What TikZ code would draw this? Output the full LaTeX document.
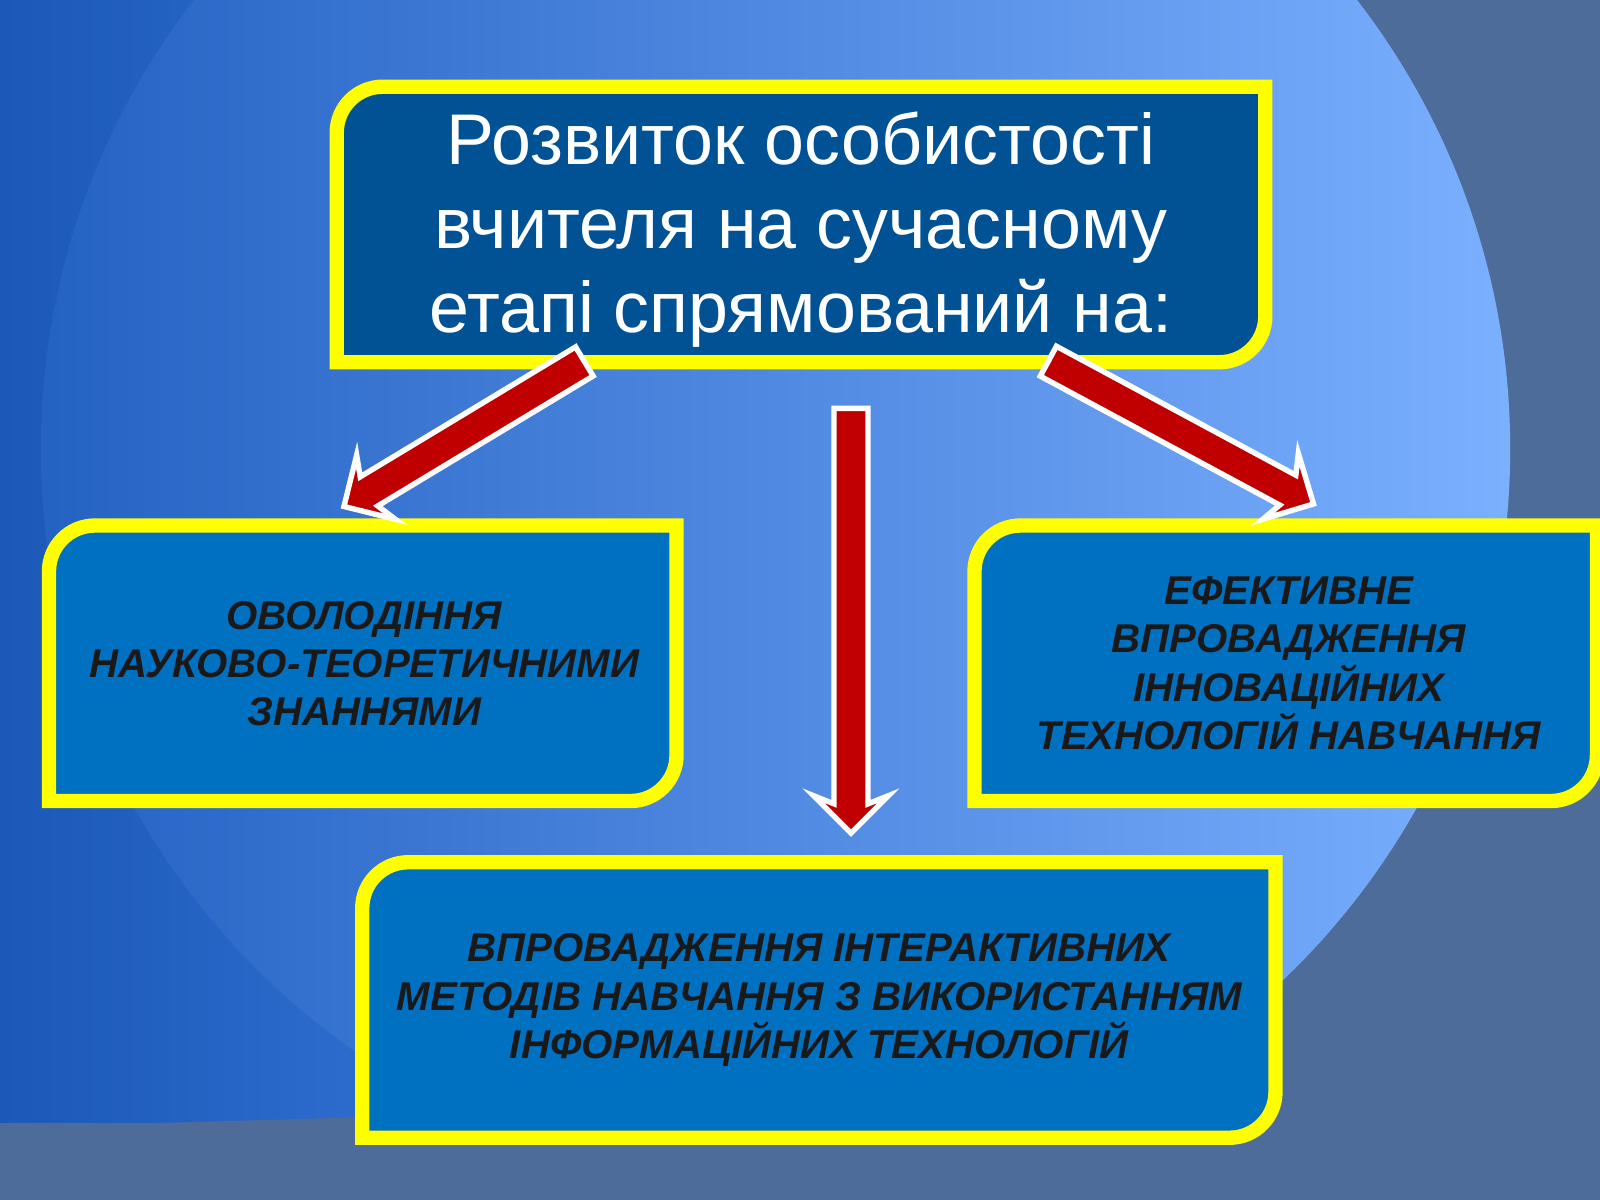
\documentclass[tikz,border=0pt]{standalone}
\usepackage{fontspec}
\setmainfont{Liberation Sans}
\usetikzlibrary{shapes.arrows}
\definecolor{bgdark}{HTML}{1B58B8}
\definecolor{bglight}{HTML}{5A9CFF}
\definecolor{grayb}{HTML}{4E6C9A}
\definecolor{topbox}{HTML}{005294}
\definecolor{subbox}{HTML}{0070C0}
\definecolor{yel}{HTML}{FFFF00}
\definecolor{arrred}{HTML}{C00000}
\tikzset{
  box/.style={draw=yel,line width=4pt,fill=subbox},
  redarrow/.style={single arrow,draw=white,line width=1.5pt,fill=arrred,minimum width=0.72cm,single arrow head extend=0.2cm,single arrow head indent=0.08cm,inner sep=0.14cm,inner xsep=0pt},
  small/.style={font=\fontsize{11.2}{13.4}\selectfont\bfseries\itshape,text=black!90,align=center}
}
\begin{document}
\begin{tikzpicture}[x=0.01cm,y=-0.01cm]
\useasboundingbox (0,0) rectangle (1568,1176);
% background
\fill[grayb] (0,0) rectangle (1568,1176);
\shade[left color=bgdark,right color=bglight] (0,0) rectangle (1250,1100);
\begin{scope}
\clip (0,0) rectangle (1568,1176);
\shade[left color=bgdark!85!bglight,right color=bglight!80!white] (760,440) circle (720);
\end{scope}
\fill[grayb] (0,1105) -- (700,1085) -- (1568,1060) -- (1568,1176) -- (0,1176) -- cycle;
% top box
\draw[box,fill=topbox] (330,355) -- (330,130) arc[start angle=180,end angle=270,radius=45] -- (1240,85) -- (1240,310) arc[start angle=0,end angle=90,radius=45] -- cycle;
\node[text=white,align=center,font=\fontsize{20}{23.3}\selectfont] (top) at (785,225) {Розвиток особистості\\вчителя на сучасному\\етапі спрямований на:};
% left
\draw[box] (48,785) -- (48,560) arc[start angle=180,end angle=270,radius=45] -- (663,515) -- (663,740) arc[start angle=0,end angle=90,radius=45] -- cycle;
\node[small] (l) at (357,650) {ОВОЛОДІННЯ\\НАУКОВО-ТЕОРЕТИЧНИМИ\\ЗНАННЯМИ};
% right
\draw[box] (955,785) -- (955,560) arc[start angle=180,end angle=270,radius=45] -- (1565,515) -- (1565,740) arc[start angle=0,end angle=90,radius=45] -- cycle;
\node[small] (r) at (1263,650) {ЕФЕКТИВНЕ\\ВПРОВАДЖЕННЯ\\ІННОВАЦІЙНИХ\\ТЕХНОЛОГІЙ НАВЧАННЯ};
% bottom
\draw[box] (355,1115) -- (355,890) arc[start angle=180,end angle=270,radius=45] -- (1250,845) -- (1250,1070) arc[start angle=0,end angle=90,radius=45] -- cycle;
\node[small] (b) at (803,980) {ВПРОВАДЖЕННЯ ІНТЕРАКТИВНИХ\\МЕТОДІВ НАВЧАННЯ З ВИКОРИСТАННЯМ\\ІНФОРМАЦІЙНИХ ТЕХНОЛОГІЙ};
% arrows
\node[redarrow,minimum height=2.75cm,rotate=211.1] (a1) at (462,421) {};
\node[redarrow,minimum height=4.16cm,rotate=-90] (a2) at (834,600) {};
\node[redarrow,minimum height=2.95cm,rotate=-28.3] (a3) at (1150,420) {};
\end{tikzpicture}
\end{document}
